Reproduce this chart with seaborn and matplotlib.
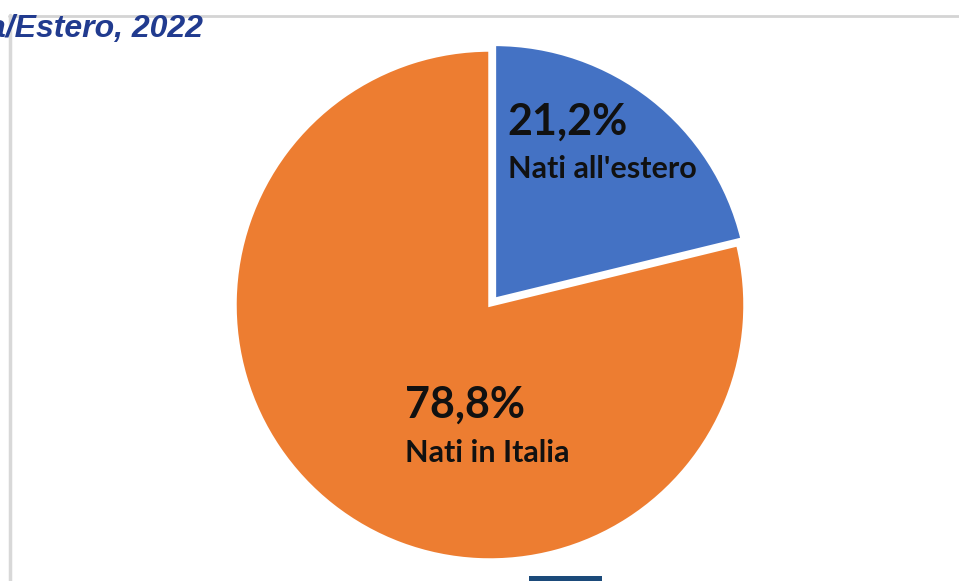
import matplotlib
matplotlib.use("Agg")
import matplotlib.pyplot as plt
import seaborn as sns
import pandas as pd

# Births by place of birth, 2022
categories = ["Nati all'estero", "Nati in Italia"]
shares = [21.2, 78.8]
share_labels = ["21,2%", "78,8%"]
title_text = "a/Estero, 2022"

df = pd.DataFrame({"categoria": categories, "quota": shares, "etichetta": share_labels})

sns.set_theme(style="white")
plt.rcParams["font.family"] = ["Lato", "DejaVu Sans"]

colors = ["#4472C4", "#ED7D31"]

W, H = 959, 581
fig = plt.figure(figsize=(W / 100, H / 100), dpi=100)
fig.patch.set_facecolor("white")

# Pie axes: centre at (490, 305) px, radius 255 px
cx, cy, r = 490, 305, 255
half = 1.12
ax = fig.add_axes([(cx - r * half) / W, (H - cy - r * half) / H,
                   2 * r * half / W, 2 * r * half / H])

ax.pie(df["quota"], colors=colors, startangle=90, counterclock=False,
       explode=[0.028, 0.0], radius=1.0,
       wedgeprops=dict(edgecolor="white", linewidth=2.5))
ax.set_xlim(-half, half)
ax.set_ylim(-half, half)
ax.set_aspect("equal")
ax.axis("off")

# Value and category labels inside the slices
label_pos = [(0.07, 0.667, 0.498), (-0.335, -0.44, -0.616)]
for (x, y_val, y_cat), val, cat in zip(label_pos, df["etichetta"], df["categoria"]):
    ax.text(x, y_val, val, ha="left", va="baseline", fontsize=31,
            fontweight="bold", color="#111111")
    ax.text(x, y_cat, cat, ha="left", va="baseline", fontsize=22,
            fontweight="bold", color="#111111")

# Frame lines of the panel
frame = fig.add_axes([0, 0, 1, 1], zorder=-1)
frame.set_xlim(0, W)
frame.set_ylim(H, 0)
frame.axis("off")
frame.plot([9, W], [15.5, 15.5], color="#d4d4d4", lw=2)
frame.plot([10, 10], [15, H], color="#d8d8d8", lw=2.5)
frame.add_patch(plt.Rectangle((529, 576), 73, 6, color="#1B4A7A", lw=0))

fig.text(-0.012, 1 - 29 / H, title_text, ha="left", va="center",
         fontsize=23, fontweight="bold", fontstyle="italic",
         color="#213B8F", family=["Liberation Sans", "DejaVu Sans"])

fig.savefig("out.png", dpi=100, facecolor="white")
